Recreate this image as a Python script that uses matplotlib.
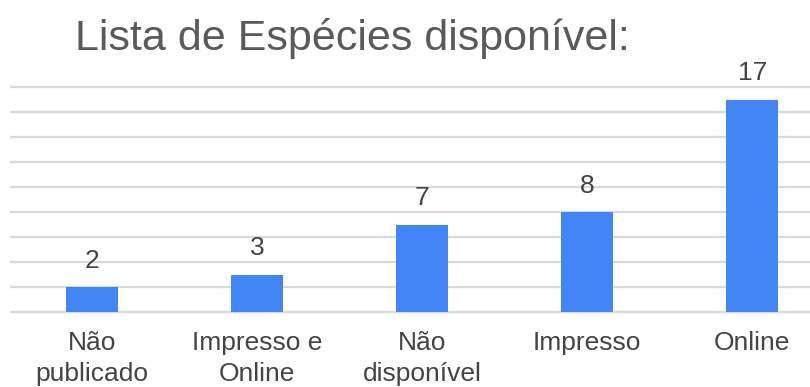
import matplotlib
matplotlib.use("Agg")
import matplotlib.pyplot as plt

categories = ["Não\npublicado", "Impresso e\nOnline", "Não\ndisponível", "Impresso", "Online"]
values = [2, 3, 7, 8, 17]
title = "Lista de Espécies disponível:"

plt.rcParams['font.family'] = ['Liberation Sans', 'DejaVu Sans']

fig = plt.figure(figsize=(8.1, 3.87), dpi=100)
ax = fig.add_axes([11/810, 75/387, 799/810, 225/387])

x = list(range(len(categories)))
bars = ax.bar(x, values, width=0.315, color="#4285F4", zorder=3)
for xi, v in zip(x, values):
    ax.annotate(str(v), (xi, v), xytext=(0, 14), textcoords="offset points",
                ha="center", va="baseline", fontsize=19, color="#444444")

ax.set_xlim(-0.49, 4.35)
ax.set_ylim(0, 18)
ax.set_yticks(range(0, 19, 2))
ax.yaxis.grid(True, color="#d9d9d9", linewidth=1.6, zorder=0)
for gl in ax.yaxis.get_gridlines():
    gl.set_clip_on(False)
ax.set_xticks(x)
ax.set_xticklabels(categories, fontsize=19, color="#444444", linespacing=1.35)
ax.tick_params(axis="x", length=0, pad=14)
ax.tick_params(axis="y", length=0, labelleft=False)
for s in ax.spines.values():
    s.set_visible(False)

fig.text(75/810, 1 - 50/387, title, ha="left", va="baseline", fontsize=31, color="#5a5a5a")

fig.savefig("out.png", dpi=100)
